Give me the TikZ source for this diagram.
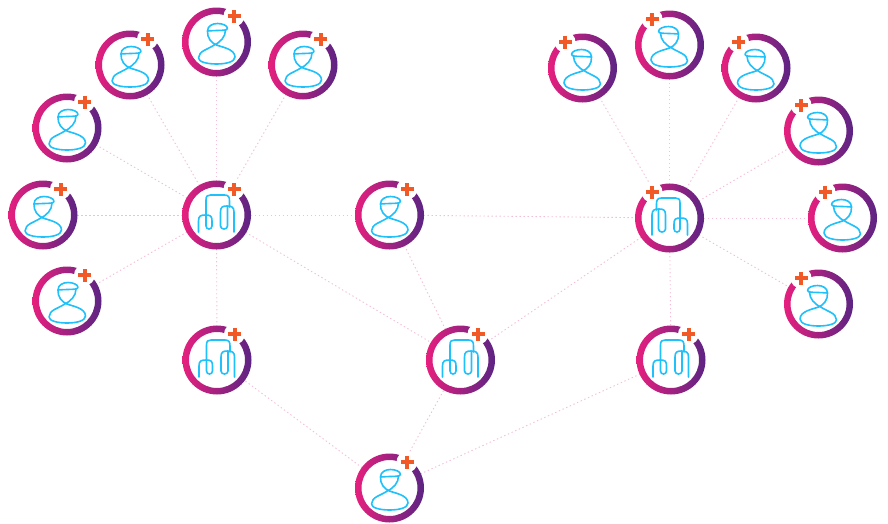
\documentclass[tikz,border=0pt]{standalone}
\definecolor{ringpink}{HTML}{E61F7E}
\definecolor{ringpurple}{HTML}{5C2483}
\definecolor{plusorange}{HTML}{F15A26}
\definecolor{linkpink}{HTML}{F3BFD8}
\definecolor{iconblue}{HTML}{20C0FA}
\tikzset{
  x=1pt,y=-1pt,
  hub/.style={circle,minimum size=68pt,inner sep=0pt,outer sep=0pt},
  link/.style={draw=linkpink,line width=0.9pt,dash pattern=on 1.4pt off 2.6pt},
  icon/.style={draw=iconblue,line width=1.6pt,line join=round,line cap=round,fill=none},
  badge/.pic={
    \shade[left color=ringpink,right color=ringpurple,even odd rule] (0,0) circle[radius=34.5] circle[radius=28];
    \fill[white] (17.5,-26) circle[radius=10.5];
    \fill[plusorange] (11,-28) rectangle (24,-24);
    \fill[plusorange] (15.5,-32.5) rectangle (19.5,-19.5);
  },
  person/.pic={
    \pic[transform shape] {badge};
    \draw[icon] (-9,-11) .. controls (-9,-16) and (-4,-18.5) .. (1,-18.5)
      .. controls (6,-18.5) and (11,-16.5) .. (11,-13.5)
      .. controls (11,-11) and (3,-12) .. (-9,-11);
    \draw[icon] (-9,-11) .. controls (-9.5,-4) and (-5,1) .. (0,3)
      .. controls (5,5) and (18.5,7) .. (18.5,15)
      .. controls (18.5,20) and (9,22) .. (0,22)
      .. controls (-9,22) and (-18,20) .. (-18,16)
      .. controls (-18,9) and (-8,7) .. (-3,3.5)
      .. controls (4,0) and (9,-5) .. (9,-12);
  },
  org/.pic={
    \pic[transform shape] {badge};
    \draw[icon] (-18,17) -- (-18,6) .. controls (-18,1) and (-16,0) .. (-11,0)
      .. controls (-6,0) and (-4.5,1) .. (-4.5,6) -- (-4.5,11)
      .. controls (-4.5,15) and (-10.5,15) .. (-10.5,11) -- (-10.5,-15)
      .. controls (-10.5,-19) and (-9,-20) .. (-6,-20) -- (8,-20)
      .. controls (12,-20) and (13,-18) .. (13,-14) -- (13,-8);
    \draw[icon] (11,-8) -- (11,11) .. controls (11,15) and (4,15) .. (4,11) -- (4,-3)
      .. controls (4,-8) and (6,-9) .. (10.5,-9)
      .. controls (15,-9) and (17.5,-8) .. (17.5,-3) -- (17.5,17);
  }
}
\begin{document}
\begin{tikzpicture}
\useasboundingbox (0,0) rectangle (888,523);
\node[hub] (a1) at (130,65) {};
\node[hub] (a2) at (216.5,42) {};
\node[hub] (a3) at (303,65) {};
\node[hub] (a4) at (67,128) {};
\node[hub] (a5) at (43,215) {};
\node[hub] (a6) at (67,301) {};
\node[hub] (hl) at (216.5,215) {};
\node[hub] (mid) at (389.5,215) {};
\node[hub] (ob1) at (217,360) {};
\node[hub] (ob2) at (460.5,360) {};
\node[hub] (ob3) at (671,360) {};
\node[hub] (bot) at (389.5,488) {};
\node[hub] (hr) at (669.5,218) {};
\node[hub] (b1) at (582.5,68) {};
\node[hub] (b2) at (669.5,45) {};
\node[hub] (b3) at (756,68) {};
\node[hub] (b4) at (818.5,131) {};
\node[hub] (b5) at (842.5,218) {};
\node[hub] (b6) at (818.5,304) {};
\foreach \u/\v in {hl/a1,hl/a2,hl/a3,hl/a4,hl/a5,hl/a6,hl/mid,hl/ob1,hl/ob2,
  mid/hr,mid/ob2,hr/b1,hr/b2,hr/b3,hr/b4,hr/b5,hr/b6,hr/ob3,hr/ob2,
  bot/ob1,bot/ob2,bot/ob3}
  \draw[link] (\u) -- (\v);
\foreach \n in {a1,a2,a3,a4,a5,a6,mid,bot}
  \pic[transform shape] at (\n) {person};
\foreach \n in {hl,ob1,ob2,ob3}
  \pic[transform shape] at (\n) {org};
\foreach \n in {b1,b2,b3,b4,b5,b6}
  \pic[transform shape,xscale=-1] at (\n) {person};
\pic[transform shape,xscale=-1] at (hr) {org};
\end{tikzpicture}
\end{document}
